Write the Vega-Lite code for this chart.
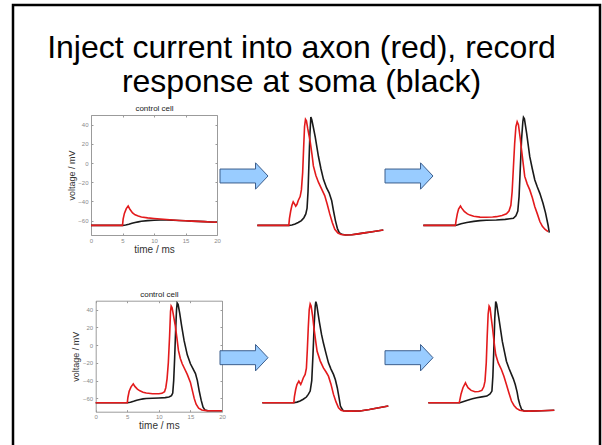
{
  "$schema": "https://vega.github.io/schema/vega-lite/v6.json",
  "width": 587,
  "height": 445,
  "padding": {"left": 13, "top": 5, "right": 2, "bottom": 0},
  "autosize": {"type": "none"},
  "background": "white",
  "view": {"stroke": "#000000", "strokeWidth": 2.5},
  "title": {
    "text": ["Inject current into axon (red), record", "response at soma (black)"],
    "font": "Liberation Sans",
    "fontSize": 32,
    "fontWeight": "normal",
    "color": "#000000",
    "anchor": "middle",
    "frame": "group",
    "baseline": "top",
    "lineHeight": 34,
    "offset": -94,
    "dx": -5
  },
  "datasets": {
    "p1_soma": [
      {"t":0,"v":-65},{"t":5,"v":-65},{"t":5.5,"v":-64.6},{"t":6,"v":-63.8},{"t":6.5,"v":-62.8},{"t":7,"v":-62},{"t":7.5,"v":-61.3},{"t":8,"v":-60.7},{"t":9,"v":-60},{"t":10,"v":-59.6},{"t":11,"v":-59.4},{"t":12,"v":-59.4},{"t":13,"v":-59.6},{"t":14,"v":-59.9},{"t":15,"v":-60.2},{"t":16,"v":-60.5},{"t":17,"v":-60.8},{"t":18,"v":-61.1},{"t":19,"v":-61.4},{"t":20,"v":-61.7}
    ],
    "p1_axon": [
      {"t":0,"v":-65},{"t":5,"v":-65},{"t":5.1,"v":-58.5},{"t":5.3,"v":-52.5},{"t":5.6,"v":-47.5},{"t":5.9,"v":-44.8},{"t":6.2,"v":-48.5},{"t":6.6,"v":-52},{"t":7,"v":-54},{"t":7.5,"v":-55.3},{"t":8,"v":-56.2},{"t":9,"v":-57.2},{"t":10,"v":-57.8},{"t":11,"v":-58.4},{"t":12,"v":-58.9},{"t":13,"v":-59.4},{"t":14,"v":-59.85},{"t":15,"v":-60.2},{"t":16,"v":-60.5},{"t":17,"v":-60.8},{"t":18,"v":-61.1},{"t":19,"v":-61.4},{"t":20,"v":-61.7}
    ],
    "p2_soma": [
      {"t":0,"v":-65},{"t":5,"v":-65},{"t":5.5,"v":-64.5},{"t":6,"v":-63.5},{"t":6.5,"v":-62},{"t":7,"v":-60},{"t":7.4,"v":-57},{"t":7.7,"v":-53},{"t":7.9,"v":-47},{"t":8.05,"v":-30},{"t":8.2,"v":0},{"t":8.35,"v":30},{"t":8.5,"v":48},{"t":8.65,"v":45},{"t":8.9,"v":37},{"t":9.2,"v":27},{"t":9.7,"v":7},{"t":10.1,"v":-6},{"t":10.5,"v":-17},{"t":11,"v":-26},{"t":11.4,"v":-31},{"t":11.8,"v":-39},{"t":12.1,"v":-50},{"t":12.4,"v":-60},{"t":12.7,"v":-68},{"t":13,"v":-72.5},{"t":13.4,"v":-74.3},{"t":14,"v":-75},{"t":15,"v":-74.8},{"t":16,"v":-73.8},{"t":17,"v":-72.8},{"t":18,"v":-71.8},{"t":19,"v":-70.8},{"t":20,"v":-69.8}
    ],
    "p2_axon": [
      {"t":0,"v":-65},{"t":5,"v":-65},{"t":5.1,"v":-58},{"t":5.3,"v":-50},{"t":5.5,"v":-44},{"t":5.7,"v":-40.5},{"t":5.9,"v":-42.5},{"t":6.1,"v":-45},{"t":6.3,"v":-43},{"t":6.5,"v":-39},{"t":6.8,"v":-35},{"t":7,"v":-28},{"t":7.2,"v":-10},{"t":7.35,"v":15},{"t":7.5,"v":38},{"t":7.65,"v":45.5},{"t":7.8,"v":44},{"t":8,"v":36},{"t":8.4,"v":22},{"t":8.7,"v":8},{"t":8.9,"v":-3},{"t":9.3,"v":-13},{"t":9.7,"v":-20},{"t":10.2,"v":-27},{"t":10.7,"v":-34},{"t":11.1,"v":-43},{"t":11.5,"v":-53},{"t":11.9,"v":-62},{"t":12.3,"v":-69},{"t":12.8,"v":-73},{"t":13.3,"v":-74.5},{"t":14,"v":-75},{"t":15,"v":-74.8},{"t":16,"v":-73.8},{"t":17,"v":-72.8},{"t":18,"v":-71.8},{"t":19,"v":-70.8},{"t":20,"v":-69.8}
    ],
    "p3_soma": [
      {"t":0,"v":-65},{"t":5.1,"v":-65},{"t":5.5,"v":-64.3},{"t":6,"v":-63.3},{"t":6.9,"v":-62},{"t":8,"v":-60.8},{"t":9,"v":-60},{"t":10,"v":-59.7},{"t":11.6,"v":-59.4},{"t":13,"v":-58.7},{"t":14.3,"v":-57.6},{"t":14.7,"v":-55},{"t":15,"v":-50},{"t":15.2,"v":-35},{"t":15.4,"v":-5},{"t":15.6,"v":25},{"t":15.8,"v":43},{"t":15.9,"v":47.6},{"t":16.05,"v":46},{"t":16.4,"v":31},{"t":16.9,"v":6.6},{"t":17.3,"v":-6},{"t":17.7,"v":-17.7},{"t":18.1,"v":-25},{"t":18.5,"v":-31.6},{"t":19,"v":-42},{"t":19.4,"v":-52},{"t":19.8,"v":-64.6},{"t":20,"v":-72.6}
    ],
    "p3_axon": [
      {"t":0,"v":-65},{"t":5.1,"v":-65},{"t":5.2,"v":-60},{"t":5.4,"v":-53},{"t":5.6,"v":-48},{"t":5.9,"v":-44.8},{"t":6.1,"v":-47},{"t":6.5,"v":-50.5},{"t":7,"v":-53},{"t":7.4,"v":-54.3},{"t":8,"v":-55.5},{"t":9,"v":-56.4},{"t":10,"v":-56.5},{"t":11,"v":-56.2},{"t":11.6,"v":-55.9},{"t":12.5,"v":-54.6},{"t":13.2,"v":-53},{"t":13.6,"v":-50},{"t":13.9,"v":-44},{"t":14.1,"v":-30},{"t":14.3,"v":-5},{"t":14.5,"v":20},{"t":14.7,"v":38},{"t":14.9,"v":43},{"t":15.1,"v":40},{"t":15.4,"v":25},{"t":15.6,"v":13.5},{"t":15.9,"v":-3},{"t":16.1,"v":-14},{"t":16.5,"v":-22},{"t":16.9,"v":-28},{"t":17.3,"v":-36},{"t":17.7,"v":-45.5},{"t":18.1,"v":-53},{"t":18.5,"v":-61},{"t":18.9,"v":-66},{"t":19.3,"v":-69},{"t":19.8,"v":-71.5}
    ],
    "p4_soma": [
      {"t":0,"v":-65},{"t":5,"v":-65},{"t":5.5,"v":-64.3},{"t":6,"v":-63.2},{"t":6.5,"v":-62},{"t":7,"v":-61.2},{"t":7.5,"v":-60.6},{"t":8,"v":-60.2},{"t":9,"v":-59.8},{"t":10,"v":-59.5},{"t":11,"v":-59.1},{"t":11.6,"v":-58.4},{"t":12,"v":-57},{"t":12.2,"v":-54},{"t":12.35,"v":-40},{"t":12.5,"v":-15},{"t":12.65,"v":15},{"t":12.8,"v":40},{"t":12.9,"v":47.5},{"t":13.05,"v":46},{"t":13.3,"v":36},{"t":13.6,"v":22},{"t":14,"v":5},{"t":14.5,"v":-11},{"t":15,"v":-21},{"t":15.5,"v":-28},{"t":15.8,"v":-32},{"t":16.1,"v":-40},{"t":16.4,"v":-52},{"t":16.7,"v":-62},{"t":17,"v":-70},{"t":17.3,"v":-73},{"t":17.7,"v":-73.8},{"t":20,"v":-74}
    ],
    "p4_axon": [
      {"t":0,"v":-65},{"t":5,"v":-65},{"t":5.1,"v":-59},{"t":5.3,"v":-52},{"t":5.6,"v":-47},{"t":5.95,"v":-43.6},{"t":6.2,"v":-46.5},{"t":6.6,"v":-49.5},{"t":7,"v":-51.5},{"t":7.5,"v":-53},{"t":8,"v":-54},{"t":9,"v":-54.8},{"t":10,"v":-54.8},{"t":10.5,"v":-54.3},{"t":10.9,"v":-52.5},{"t":11.1,"v":-48},{"t":11.3,"v":-38},{"t":11.5,"v":-20},{"t":11.7,"v":10},{"t":11.85,"v":38},{"t":11.95,"v":44},{"t":12.1,"v":42},{"t":12.3,"v":34},{"t":12.6,"v":22},{"t":12.9,"v":6},{"t":13.1,"v":-6},{"t":13.4,"v":-15},{"t":13.7,"v":-21},{"t":14,"v":-25.5},{"t":14.5,"v":-33},{"t":15,"v":-42},{"t":15.3,"v":-51},{"t":15.6,"v":-60},{"t":15.9,"v":-66.5},{"t":16.3,"v":-71},{"t":16.8,"v":-73},{"t":17.5,"v":-73.8},{"t":20,"v":-74}
    ],
    "p5_soma": [
      {"t":0,"v":-65},{"t":5,"v":-65},{"t":5.5,"v":-64.2},{"t":6,"v":-63},{"t":6.5,"v":-61},{"t":7,"v":-58.5},{"t":7.3,"v":-55.5},{"t":7.6,"v":-51.8},{"t":7.85,"v":-40},{"t":8.05,"v":-10},{"t":8.25,"v":25},{"t":8.4,"v":44},{"t":8.5,"v":49},{"t":8.65,"v":45},{"t":9.05,"v":26.5},{"t":9.4,"v":12},{"t":9.7,"v":2.3},{"t":10.1,"v":-9},{"t":10.5,"v":-20},{"t":10.9,"v":-27},{"t":11.3,"v":-33},{"t":11.6,"v":-39},{"t":11.9,"v":-48},{"t":12.2,"v":-60},{"t":12.4,"v":-68.6},{"t":12.7,"v":-72.5},{"t":12.9,"v":-74},{"t":14,"v":-74.3},{"t":15.5,"v":-74.2},{"t":17,"v":-72.5},{"t":18.5,"v":-70.5},{"t":20,"v":-68.6}
    ],
    "p5_axon": [
      {"t":0,"v":-65},{"t":5,"v":-65},{"t":5.1,"v":-58},{"t":5.3,"v":-50},{"t":5.5,"v":-44.5},{"t":5.8,"v":-40.6},{"t":6.1,"v":-44.3},{"t":6.3,"v":-41},{"t":6.5,"v":-37},{"t":6.8,"v":-33},{"t":7,"v":-26},{"t":7.15,"v":-5},{"t":7.3,"v":20},{"t":7.45,"v":40},{"t":7.6,"v":46.4},{"t":7.75,"v":44},{"t":8,"v":32},{"t":8.2,"v":19},{"t":8.5,"v":3},{"t":8.7,"v":-7},{"t":9.2,"v":-18},{"t":9.7,"v":-25.7},{"t":10.1,"v":-30},{"t":10.5,"v":-35},{"t":10.9,"v":-44},{"t":11.3,"v":-55.5},{"t":11.7,"v":-64},{"t":12.1,"v":-70.5},{"t":12.5,"v":-73.3},{"t":12.9,"v":-74.2},{"t":14,"v":-74.3},{"t":15.5,"v":-74.2},{"t":17,"v":-72.5},{"t":18.5,"v":-70.5},{"t":20,"v":-68.6}
    ],
    "p6_soma": [
      {"t":0,"v":-65},{"t":5,"v":-65},{"t":5.5,"v":-63.8},{"t":6.1,"v":-62.3},{"t":7,"v":-60.5},{"t":7.7,"v":-59.3},{"t":8.5,"v":-58.3},{"t":9.3,"v":-57.4},{"t":9.8,"v":-55},{"t":10.1,"v":-51.8},{"t":10.25,"v":-35},{"t":10.4,"v":-5},{"t":10.55,"v":30},{"t":10.7,"v":49},{"t":10.85,"v":46},{"t":11.2,"v":30.3},{"t":11.75,"v":4.1},{"t":12.1,"v":-8},{"t":12.4,"v":-18.2},{"t":12.8,"v":-26},{"t":13.2,"v":-33},{"t":13.5,"v":-38},{"t":13.8,"v":-44.3},{"t":14.1,"v":-53},{"t":14.3,"v":-61},{"t":14.55,"v":-67.5},{"t":14.8,"v":-72.3},{"t":15.2,"v":-74.2},{"t":16,"v":-74.3},{"t":18,"v":-74},{"t":20,"v":-73.4}
    ],
    "p6_axon": [
      {"t":0,"v":-65},{"t":4.9,"v":-65},{"t":5,"v":-62},{"t":5.2,"v":-55},{"t":5.5,"v":-48},{"t":5.9,"v":-42.5},{"t":6.1,"v":-45.5},{"t":6.3,"v":-48},{"t":6.8,"v":-51},{"t":7.4,"v":-52.5},{"t":8,"v":-52.3},{"t":8.5,"v":-51},{"t":8.8,"v":-47},{"t":9,"v":-40.6},{"t":9.2,"v":-20},{"t":9.35,"v":10},{"t":9.5,"v":35},{"t":9.65,"v":44},{"t":9.8,"v":42},{"t":10,"v":30},{"t":10.2,"v":19},{"t":10.5,"v":0},{"t":10.7,"v":-10.7},{"t":11.1,"v":-20},{"t":11.6,"v":-27.5},{"t":12,"v":-35},{"t":12.4,"v":-44.3},{"t":12.8,"v":-54},{"t":13.2,"v":-63},{"t":13.6,"v":-68},{"t":14,"v":-71.2},{"t":14.5,"v":-73.3},{"t":15.1,"v":-74.2},{"t":16,"v":-74.3},{"t":18,"v":-74},{"t":20,"v":-73.4}
    ],
    "arrows": [
      {"row":1,"gap":1},{"row":1,"gap":2},{"row":2,"gap":1},{"row":2,"gap":2}
    ]
  },
  "layer": [
    {
      "layer": [
        {
          "data": {"name": "p1_soma"},
          "mark": {"type": "line", "color": "#1a1a1a", "strokeWidth": 1.6},
          "encoding": {
            "x": {"field": "t", "type": "quantitative", "scale": {"domain": [0, 20], "range": [78, 204], "nice": false, "zero": false},
              "axis": {"orient": "bottom", "offset": -215, "values": [0, 5, 10, 15, 20], "title": "time / ms", "titleFontSize": 10, "titlePadding": 1, "labelFontSize": 6, "labelPadding": 4, "tickSize": -2}},
            "y": {"field": "v", "type": "quantitative", "scale": {"domain": [-75, 50], "range": [230, 110], "nice": false, "zero": false},
              "axis": {"orient": "left", "offset": -78, "values": [-60, -40, -20, 0, 20, 40], "title": "voltage / mV", "titleFontSize": 9, "titlePadding": 1, "labelFontSize": 6, "labelPadding": 5, "tickSize": -2}}
          }
        },
        {
          "data": {"name": "p1_axon"},
          "mark": {"type": "line", "color": "#e31a1c", "strokeWidth": 1.6},
          "encoding": {
            "x": {"field": "t", "type": "quantitative",
              "axis": {"orient": "top", "offset": -110, "values": [0, 5, 10, 15, 20], "labels": false, "title": "control cell", "titleFontSize": 8, "titlePadding": 2, "tickSize": -2, "titleColor": "#222222"}},
            "y": {"field": "v", "type": "quantitative",
              "axis": {"orient": "right", "offset": -383, "values": [-60, -40, -20, 0, 20, 40], "labels": false, "title": null, "tickSize": -2}}
          }
        }
      ],
      "resolve": {"axis": {"x": "independent", "y": "independent"}}
    },
    {
      "layer": [
        {
          "data": {"name": "p2_soma"},
          "mark": {"type": "line", "color": "#1a1a1a", "strokeWidth": 1.6},
          "encoding": {
            "x": {"field": "t", "type": "quantitative", "scale": {"domain": [0, 20], "range": [244.3, 370.3], "nice": false, "zero": false},
              "axis": {"orient": "top", "offset": -110, "domain": false, "ticks": false, "labels": false, "title": "Erev -60mV in axon", "titleFontSize": 8, "titlePadding": 2, "titleColor": "#222222"}},
            "y": {"field": "v", "type": "quantitative", "scale": {"domain": [-75, 50], "range": [230, 110], "nice": false, "zero": false}, "axis": null}
          }
        },
        {
          "data": {"name": "p2_axon"},
          "mark": {"type": "line", "color": "#e31a1c", "strokeWidth": 1.6},
          "encoding": {
            "x": {"field": "t", "type": "quantitative", "axis": null},
            "y": {"field": "v", "type": "quantitative", "axis": null}
          }
        }
      ]
    },
    {
      "layer": [
        {
          "data": {"name": "p3_soma"},
          "mark": {"type": "line", "color": "#1a1a1a", "strokeWidth": 1.6},
          "encoding": {
            "x": {"field": "t", "type": "quantitative", "scale": {"domain": [0, 20], "range": [410.3, 536.3], "nice": false, "zero": false},
              "axis": {"orient": "top", "offset": -110, "domain": false, "ticks": false, "labels": false, "title": "Erev -60mV 25um surr init", "titleFontSize": 8, "titlePadding": 2, "titleColor": "#222222"}},
            "y": {"field": "v", "type": "quantitative", "scale": {"domain": [-75, 50], "range": [230, 110], "nice": false, "zero": false}, "axis": null}
          }
        },
        {
          "data": {"name": "p3_axon"},
          "mark": {"type": "line", "color": "#e31a1c", "strokeWidth": 1.6},
          "encoding": {
            "x": {"field": "t", "type": "quantitative", "axis": null},
            "y": {"field": "v", "type": "quantitative", "axis": null}
          }
        }
      ]
    },
    {
      "layer": [
        {
          "data": {"name": "p4_soma"},
          "mark": {"type": "line", "color": "#1a1a1a", "strokeWidth": 1.6},
          "encoding": {
            "x": {"field": "t", "type": "quantitative", "scale": {"domain": [0, 20], "range": [82.7, 209], "nice": false, "zero": false},
              "axis": {"orient": "bottom", "offset": -38.3, "values": [0, 5, 10, 15, 20], "title": "time / ms", "titleFontSize": 10, "titlePadding": 1, "labelFontSize": 6, "labelPadding": 4, "tickSize": -2}},
            "y": {"field": "v", "type": "quantitative", "scale": {"domain": [-75, 50], "range": [406.7, 295.7], "nice": false, "zero": false},
              "axis": {"orient": "left", "offset": -82.7, "values": [-60, -40, -20, 0, 20, 40], "title": "voltage / mV", "titleFontSize": 9, "titlePadding": 2, "labelFontSize": 6, "labelPadding": 5, "tickSize": -2}}
          }
        },
        {
          "data": {"name": "p4_axon"},
          "mark": {"type": "line", "color": "#e31a1c", "strokeWidth": 1.6},
          "encoding": {
            "x": {"field": "t", "type": "quantitative",
              "axis": {"orient": "top", "offset": -295.7, "values": [0, 5, 10, 15, 20], "labels": false, "title": "control cell", "titleFontSize": 8, "titlePadding": 2, "tickSize": -2, "titleColor": "#222222"}},
            "y": {"field": "v", "type": "quantitative",
              "axis": {"orient": "right", "offset": -378, "values": [-60, -40, -20, 0, 20, 40], "labels": false, "title": null, "tickSize": -2}}
          }
        }
      ],
      "resolve": {"axis": {"x": "independent", "y": "independent"}}
    },
    {
      "layer": [
        {
          "data": {"name": "p5_soma"},
          "mark": {"type": "line", "color": "#1a1a1a", "strokeWidth": 1.6},
          "encoding": {
            "x": {"field": "t", "type": "quantitative", "scale": {"domain": [0, 20], "range": [249.3, 375.3], "nice": false, "zero": false},
              "axis": {"orient": "top", "offset": -295.7, "domain": false, "ticks": false, "labels": false, "title": "Erev -60mV in axon", "titleFontSize": 8, "titlePadding": 2, "titleColor": "#222222"}},
            "y": {"field": "v", "type": "quantitative", "scale": {"domain": [-75, 50], "range": [406.7, 295.7], "nice": false, "zero": false}, "axis": null}
          }
        },
        {
          "data": {"name": "p5_axon"},
          "mark": {"type": "line", "color": "#e31a1c", "strokeWidth": 1.6},
          "encoding": {
            "x": {"field": "t", "type": "quantitative", "axis": null},
            "y": {"field": "v", "type": "quantitative", "axis": null}
          }
        }
      ]
    },
    {
      "layer": [
        {
          "data": {"name": "p6_soma"},
          "mark": {"type": "line", "color": "#1a1a1a", "strokeWidth": 1.6},
          "encoding": {
            "x": {"field": "t", "type": "quantitative", "scale": {"domain": [0, 20], "range": [415.3, 541.3], "nice": false, "zero": false},
              "axis": {"orient": "top", "offset": -295.7, "domain": false, "ticks": false, "labels": false, "title": "Erev -60mV 50um surr init", "titleFontSize": 8, "titlePadding": 2, "titleColor": "#222222"}},
            "y": {"field": "v", "type": "quantitative", "scale": {"domain": [-75, 50], "range": [406.7, 295.7], "nice": false, "zero": false}, "axis": null}
          }
        },
        {
          "data": {"name": "p6_axon"},
          "mark": {"type": "line", "color": "#e31a1c", "strokeWidth": 1.6},
          "encoding": {
            "x": {"field": "t", "type": "quantitative", "axis": null},
            "y": {"field": "v", "type": "quantitative", "axis": null}
          }
        }
      ]
    },
    {
      "data": {"name": "arrows"},
      "mark": {
        "type": "point",
        "shape": "M-1,-0.29L0.48,-0.29L0.48,-0.55L1,0L0.48,0.55L0.48,0.29L-1,0.29Z",
        "size": 2304,
        "filled": true,
        "fill": "#99ccff",
        "stroke": "#3c5e8c",
        "strokeWidth": 1,
        "opacity": 1
      },
      "encoding": {
        "x": {"field": "gap", "type": "quantitative", "scale": {"domain": [1, 2], "range": [231, 396], "nice": false, "zero": false}, "axis": null},
        "y": {"field": "row", "type": "quantitative", "scale": {"domain": [1, 2], "range": [171, 352.7], "nice": false, "zero": false}, "axis": null}
      }
    }
  ],
  "resolve": {"scale": {"x": "independent", "y": "independent"}},
  "config": {
    "font": "Liberation Sans",
    "axis": {
      "grid": false,
      "labelFont": "Liberation Sans",
      "titleFont": "Liberation Sans",
      "titleFontWeight": "normal",
      "domainColor": "#9b9b9b",
      "tickColor": "#9b9b9b",
      "domainWidth": 1,
      "tickWidth": 1,
      "labelColor": "#8a8a8a",
      "titleColor": "#333333",
      "labelFlush": false,
      "minExtent": 0
    }
  }
}
